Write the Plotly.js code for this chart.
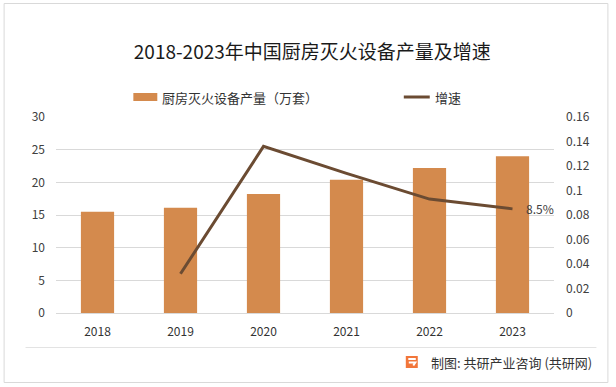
<!DOCTYPE html>
<html>
<head>
<meta charset="utf-8">
<script src="https://cdn.plot.ly/plotly-3.0.1.min.js"></script>
<style>
html,body{margin:0;padding:0;background:#fff;}
#chart{width:616px;height:387px;}
</style>
</head>
<body>
<div id="chart"></div>
<script>
// ---- data ----
const years = ['2018', '2019', '2020', '2021', '2022', '2023'];
const output = [15.5, 16.1, 18.2, 20.4, 22.2, 24.0];          // 厨房灭火设备产量（万套）
const growthYears = ['2019', '2020', '2021', '2022', '2023'];
const growth = [0.032, 0.136, 0.114, 0.093, 0.085];           // 增速
const labelYear = '2023';
const labelText = '8.5%';
const titleText = '2018-2023年中国厨房灭火设备产量及增速';
const barName = '厨房灭火设备产量（万套）';
const lineName = '增速';
const sourceText = '制图: 共研产业咨询 (共研网)';

// ---- layout helpers (pixel -> paper) ----
const W = 616, H = 387;
const L = 55.5, R = 554.5, T = 117, B = 313;
const px = x => (x - L) / (R - L);
const py = y => (B - y) / (B - T);

const FONT = '"Noto Sans CJK SC", "Noto Sans", sans-serif';
const BAR = '#D48A4D';
const LINE = '#6B4B32';
const GRID = '#D9D9D9';
const TICK = '#404040';

const traces = [
  {
    type: 'bar', x: years, y: output, name: barName,
    marker: {color: BAR}, width: 0.4, yaxis: 'y', showlegend: false,
    hoverinfo: 'x+y'
  },
  {
    type: 'scatter', mode: 'lines', x: growthYears, y: growth, name: lineName,
    yaxis: 'y2', line: {color: LINE, width: 3},
    showlegend: false, cliponaxis: false
  }
];

const layout = {
  width: W, height: H,
  margin: {l: L, r: W - R, t: T, b: H - B, pad: 0},
  paper_bgcolor: '#fff', plot_bgcolor: '#fff',
  font: {family: FONT, size: 12, color: TICK},
  title: {
    text: titleText, font: {family: FONT, size: 19, color: '#1a1a1a'},
    x: 0.507, xanchor: 'center', y: 1 - 52 / H, yanchor: 'middle', yref: 'container'
  },
  bargap: 0.6,
  xaxis: {
    type: 'category', categoryorder: 'array', categoryarray: years,
    range: [-0.5, years.length - 0.5],
    showgrid: false, zeroline: false, showline: false,
    ticks: '', ticklabelstandoff: 10, tickfont: {family: FONT, size: 12, color: '#333'}
  },
  yaxis: {
    range: [0, 30], dtick: 5, showgrid: true, gridcolor: GRID, gridwidth: 1,
    zeroline: true, zerolinecolor: GRID, zerolinewidth: 1,
    ticks: '', ticklabelstandoff: 10, tickfont: {family: FONT, size: 12, color: TICK},
    fixedrange: true
  },
  yaxis2: {
    overlaying: 'y', side: 'right', range: [0, 0.16], dtick: 0.02,
    showgrid: false, zeroline: false, ticks: '', ticklabelstandoff: 11,
    tickfont: {family: FONT, size: 12, color: TICK}, fixedrange: true
  },
  showlegend: false,
  shapes: [
    // outer border
    {type: 'rect', xref: 'paper', yref: 'paper', x0: px(3.5), x1: px(608.5), y0: py(3.5), y1: py(382.5),
     line: {color: '#D9D9D9', width: 1}, fillcolor: 'rgba(0,0,0,0)', layer: 'below'},
    // footer separator
    {type: 'line', xref: 'paper', yref: 'paper', x0: px(25), x1: px(597), y0: py(347.5), y1: py(347.5),
     line: {color: '#E3E3E3', width: 1}},
    // legend swatches
    {type: 'rect', xref: 'paper', yref: 'paper', x0: px(133), x1: px(157), y0: py(93), y1: py(101),
     line: {width: 0}, fillcolor: BAR},
    {type: 'line', xref: 'paper', yref: 'paper', x0: px(404), x1: px(430), y0: py(97), y1: py(97),
     line: {color: LINE, width: 3}},
    // footer logo
    {type: 'rect', xref: 'paper', yref: 'paper', x0: px(406), x1: px(418), y0: py(356), y1: py(368),
     line: {width: 0}, fillcolor: '#F2763A'},
    {type: 'line', xref: 'paper', yref: 'paper', x0: px(408.5), x1: px(416), y0: py(359), y1: py(359),
     line: {color: '#fff', width: 2}},
    {type: 'path', xref: 'paper', yref: 'paper',
     path: 'M' + px(409) + ',' + py(362.5) + 'L' + px(415.5) + ',' + py(362.5) + 'L' + px(413.5) + ',' + py(365.5),
     line: {color: '#fff', width: 2}}
  ],
  annotations: [
    {text: labelText, xref: 'x', yref: 'y2', x: years.indexOf(labelYear),
     y: growth[growthYears.indexOf(labelYear)],
     xanchor: 'left', yanchor: 'middle', xshift: 11, showarrow: false,
     font: {family: FONT, size: 12, color: TICK}},
    {text: barName, xref: 'paper', yref: 'paper', x: px(160), y: py(97), xanchor: 'left', yanchor: 'middle',
     showarrow: false, font: {family: FONT, size: 13, color: '#333'}},
    {text: lineName, xref: 'paper', yref: 'paper', x: px(433), y: py(97), xanchor: 'left', yanchor: 'middle',
     showarrow: false, font: {family: FONT, size: 13, color: '#333'}},
    {text: sourceText, xref: 'paper', yref: 'paper', x: px(429), y: py(362), xanchor: 'left', yanchor: 'middle',
     showarrow: false, font: {family: FONT, size: 13, color: '#333'}}
  ]
};

Plotly.newPlot('chart', traces, layout, {displayModeBar: false, staticPlot: true});
</script>
</body>
</html>
